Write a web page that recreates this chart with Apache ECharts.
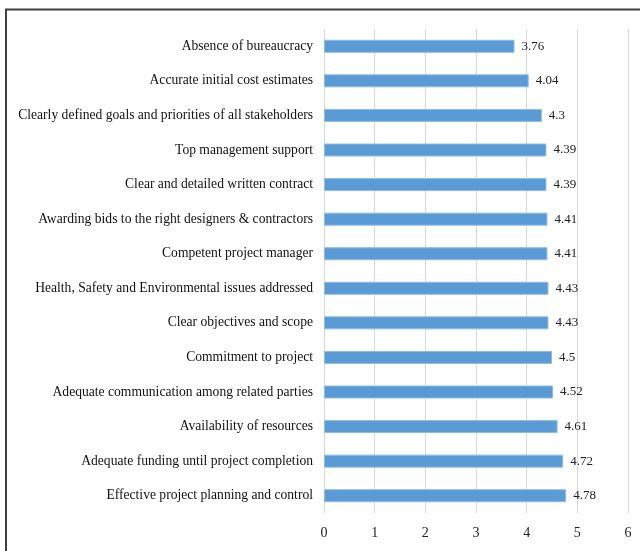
<!DOCTYPE html>
<html><head><meta charset="utf-8">
<script src="https://cdn.jsdelivr.net/npm/echarts@6/dist/echarts.min.js"></script>
<style>html,body{margin:0;padding:0;background:#fff;}#c{width:640px;height:551px;}</style>
</head><body><div id="c"></div>
<script>
const categories = [
  "Absence of bureaucracy",
  "Accurate initial cost estimates",
  "Clearly defined goals and priorities of all stakeholders",
  "Top management support",
  "Clear and detailed written contract",
  "Awarding bids to the right designers & contractors",
  "Competent project manager",
  "Health, Safety and Environmental issues addressed",
  "Clear objectives and scope",
  "Commitment to project",
  "Adequate communication among related parties",
  "Availability of resources",
  "Adequate funding until project completion",
  "Effective project planning and control"
];
const values = [3.76, 4.04, 4.3, 4.39, 4.39, 4.41, 4.41, 4.43, 4.43, 4.5, 4.52, 4.61, 4.72, 4.78];
const xTicks = [0, 1, 2, 3, 4, 5, 6];

const font = "'Liberation Serif', 'Times New Roman', serif";
const chart = echarts.init(document.getElementById('c'), null, {renderer: 'canvas'});
chart.setOption({
  animation: false,
  backgroundColor: '#fff',
  graphic: [{
    type: 'polyline', silent: true,
    shape: {points: [[6, 560], [6, 9.5], [650, 9.5]]},
    style: {stroke: '#404040', lineWidth: 2, fill: null}
  }],
  grid: {left: 324, right: 12, top: 29, bottom: 38, containLabel: false},
  xAxis: {
    type: 'value', min: xTicks[0], max: xTicks[xTicks.length - 1], interval: 1,
    axisLine: {show: false}, axisTick: {show: false},
    splitLine: {show: true, lineStyle: {color: '#d9d9d9', width: 1}},
    axisLabel: {fontFamily: font, fontSize: 14, color: '#222', margin: 13}
  },
  yAxis: {
    type: 'category', inverse: true, data: categories,
    axisLine: {show: false}, axisTick: {show: false},
    axisLabel: {fontFamily: font, fontSize: 13.6, color: '#111', margin: 11}
  },
  series: [{
    type: 'bar', data: values, barWidth: 13,
    itemStyle: {color: '#5b9bd5', borderColor: '#8fbbe3', borderWidth: 1},
    label: {show: true, position: 'right', distance: 7, fontFamily: font, fontSize: 13, color: '#222'}
  }]
});
</script></body></html>
